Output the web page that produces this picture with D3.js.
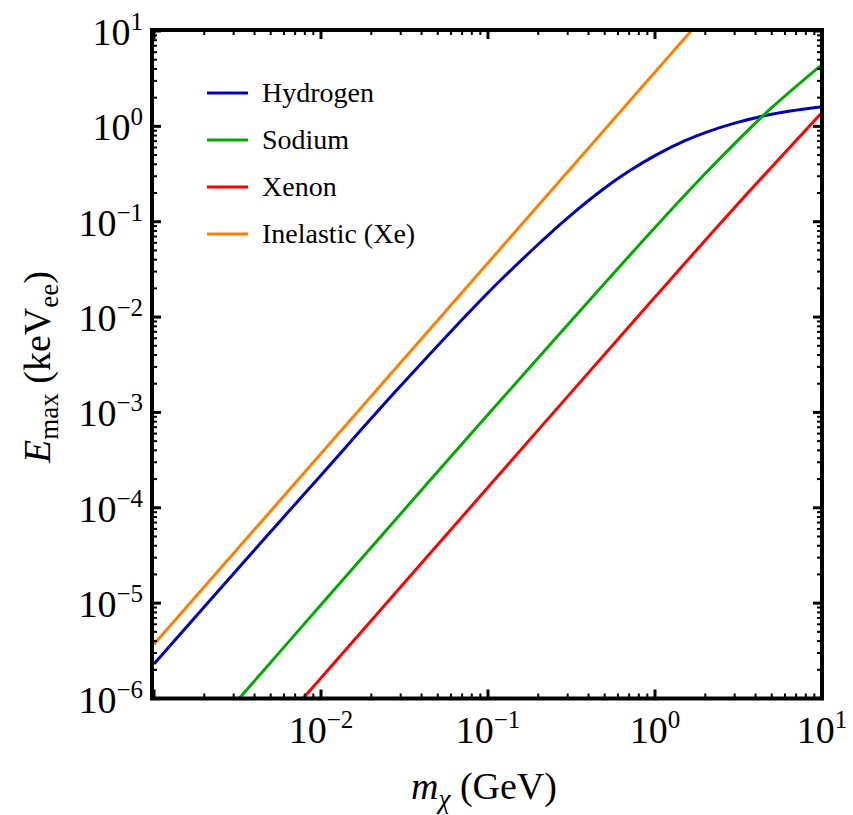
<!DOCTYPE html>
<html>
<head>
<meta charset="utf-8">
<script src="https://cdn.jsdelivr.net/npm/d3@7"></script>
<style>
  html, body { margin: 0; padding: 0; background: #fff; }
  svg { display: block; font-family: "Liberation Serif", "Times New Roman", serif; }
</style>
</head>
<body>
<svg id="chart" width="853" height="815"></svg>
<script>
// ---- data ----
const massH     = [0.001, 0.003, 0.01, 0.03, 0.1, 0.2, 0.3, 0.5, 0.7, 1, 1.5, 2, 3, 5, 7, 10];
const hydrogen  = [2.3e-6, 2.05e-5, 2.2e-4, 1.9e-3, 0.018, 0.058, 0.110, 0.226, 0.34, 0.494, 0.703, 0.86, 1.08, 1.34, 1.48, 1.61];
const massNa    = [0.003, 0.01, 0.1, 1, 2, 3, 5, 10];
const sodium    = [8.6e-7, 9.6e-6, 9.5e-4, 0.087, 0.32, 0.66, 1.57, 4.45];
const massXe    = [0.007, 0.01, 0.1, 1, 3, 10];
const xenon     = [8.1e-7, 1.64e-6, 1.64e-4, 0.0162, 0.141, 1.40];
const massIn    = [0.001, 2];
const inelastic = [3.7e-6, 14.8];

const seriesNames  = ["Hydrogen", "Sodium", "Xenon", "Inelastic (Xe)"];
const seriesColors = ["#0000b4", "#00aa00", "#ff0000", "#ff8000"];
const xTickExps = [-2, -1, 0, 1];
const yTickExps = [1, 0, -1, -2, -3, -4, -5, -6];

const series = [
  { name: seriesNames[0], color: seriesColors[0], m: massH,  e: hydrogen },
  { name: seriesNames[1], color: seriesColors[1], m: massNa, e: sodium },
  { name: seriesNames[2], color: seriesColors[2], m: massXe, e: xenon },
  { name: seriesNames[3], color: seriesColors[3], m: massIn, e: inelastic }
];

// ---- layout ----
const L = 152, R = 822, T = 30, B = 698.5;
const svg = d3.select("#chart");
const x = d3.scaleLog().domain([1e-3, 10]).range([L + 2, R]);
const y = d3.scaleLog().domain([1e-6, 10]).range([B, T + 1]);

svg.append("defs").append("clipPath").attr("id", "clip")
  .append("rect").attr("x", L).attr("y", T).attr("width", R - L).attr("height", B - T);

const line = d3.line()
  .x(d => x(d[0])).y(d => y(d[1]))
  .curve(d3.curveCatmullRom.alpha(0.5));

const g = svg.append("g").attr("clip-path", "url(#clip)");
series.forEach(s => {
  g.append("path")
    .datum(s.m.map((m, i) => [m, s.e[i]]))
    .attr("d", line)
    .attr("fill", "none")
    .attr("stroke", s.color)
    .attr("stroke-width", 3);
});

// ---- ticks (inward, all four sides) ----
function minorMajor(domainExpMin, domainExpMax) {
  const out = [];
  for (let e = domainExpMin; e <= domainExpMax; e++) {
    for (let k = 1; k <= 9; k++) {
      const v = k * Math.pow(10, e);
      if (e === domainExpMax && k > 1) break;
      out.push({ v, major: k === 1 });
    }
  }
  return out;
}
const xt = minorMajor(-3, 1);
const yt = minorMajor(-6, 1);
const tk = svg.append("g").attr("stroke", "#000");
xt.forEach(t => {
  const len = t.major ? 9 : 5, w = t.major ? 3 : 2;
  const px = x(t.v);
  tk.append("line").attr("x1", px).attr("x2", px).attr("y1", B).attr("y2", B - len).attr("stroke-width", w);
  tk.append("line").attr("x1", px).attr("x2", px).attr("y1", T).attr("y2", T + len).attr("stroke-width", w);
});
yt.forEach(t => {
  const len = t.major ? 9 : 5, w = t.major ? 3 : 2;
  const py = y(t.v);
  tk.append("line").attr("y1", py).attr("y2", py).attr("x1", L).attr("x2", L + len).attr("stroke-width", w);
  tk.append("line").attr("y1", py).attr("y2", py).attr("x1", R).attr("x2", R - len).attr("stroke-width", w);
});

// frame
svg.append("rect").attr("x", L).attr("y", T).attr("width", R - L).attr("height", B - T)
  .attr("fill", "none").attr("stroke", "#000").attr("stroke-width", 4);

// ---- tick labels ----
function expText(sel, e) {
  sel.append("tspan").text("10");
  sel.append("tspan").attr("dy", -15).attr("font-size", 25)
    .text(e < 0 ? "\u2212" + Math.abs(e) : String(e));
}
xTickExps.forEach(e => {
  const t = svg.append("text").attr("x", x(Math.pow(10, e))).attr("y", 743)
    .attr("text-anchor", "middle").attr("font-size", 38).attr("fill", "#000");
  expText(t, e);
});
yTickExps.forEach(e => {
  const t = svg.append("text").attr("x", 143).attr("y", y(Math.pow(10, e)) + 14)
    .attr("text-anchor", "end").attr("font-size", 38).attr("fill", "#000");
  expText(t, e);
});

// ---- axis titles ----
const xt1 = svg.append("text").attr("x", 484).attr("y", 799).attr("text-anchor", "middle")
  .attr("font-size", 38).attr("fill", "#000");
xt1.append("tspan").attr("font-style", "italic").text("m");
xt1.append("tspan").attr("font-style", "italic").attr("font-size", 27).attr("dy", 9).text("\u03C7");
xt1.append("tspan").attr("dy", -9).text(" (GeV)");

const yt1 = svg.append("text").attr("transform", "translate(50,367) rotate(-90)")
  .attr("text-anchor", "middle").attr("font-size", 38).attr("fill", "#000");
yt1.append("tspan").attr("font-style", "italic").text("E");
yt1.append("tspan").attr("font-size", 27).attr("dy", 8).text("max");
yt1.append("tspan").attr("dy", -8).text(" (keV");
yt1.append("tspan").attr("font-size", 27).attr("dy", 8).text("ee");
yt1.append("tspan").attr("dy", -8).text(")");

// ---- legend ----
const lg = svg.append("g");
series.forEach((s, i) => {
  const ly = 93 + i * 47;
  lg.append("line").attr("x1", 207).attr("x2", 248).attr("y1", ly).attr("y2", ly)
    .attr("stroke", s.color).attr("stroke-width", 3);
  lg.append("text").attr("x", 262).attr("y", ly + 9).attr("font-size", 28).attr("fill", "#000").text(s.name);
});
</script>
</body>
</html>
